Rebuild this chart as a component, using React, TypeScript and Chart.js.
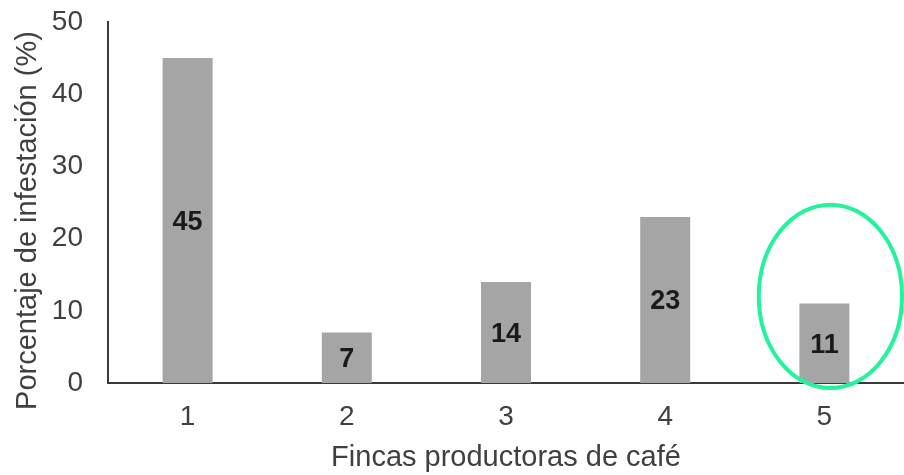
import React, { useEffect, useRef } from "react";
import { Chart, registerables } from "chart.js";

Chart.register(...registerables);

// Infestation percentage per coffee farm
const farms = ["1", "2", "3", "4", "5"];
const infestation = [45, 7, 14, 23, 11];
const yTicks = [0, 10, 20, 30, 40, 50];
const highlightedFarm = "5";

const FONT = "'Liberation Sans', Arial, sans-serif";
const TEXT = "#404040";

// Bold value written in the middle of each bar
const valueLabels = {
  id: "valueLabels",
  afterDatasetsDraw(chart: any) {
    const ctx = chart.ctx;
    const meta = chart.getDatasetMeta(0);
    ctx.save();
    ctx.font = `bold 27px ${FONT}`;
    ctx.fillStyle = "#1a1a1a";
    ctx.textAlign = "center";
    ctx.textBaseline = "middle";
    meta.data.forEach((bar: any, i: number) => {
      ctx.fillText(String(infestation[i]), bar.x, (bar.y + bar.base) / 2 + 2);
    });
    ctx.restore();
  },
};

// Vertical axis title, set a little below the centre of the axis
const yTitle = {
  id: "yTitle",
  afterDraw(chart: any) {
    const { ctx, chartArea } = chart;
    ctx.save();
    ctx.font = `29px ${FONT}`;
    ctx.fillStyle = TEXT;
    ctx.textAlign = "center";
    ctx.textBaseline = "middle";
    ctx.translate(chartArea.left - 80, (chartArea.top + chartArea.bottom) / 2 + 18);
    ctx.rotate(-Math.PI / 2);
    ctx.fillText("Porcentaje de infestación (%)", 0, 0);
    ctx.restore();
  },
};

// Green ellipse circling the highlighted farm
const highlightRing = {
  id: "highlightRing",
  afterDraw(chart: any) {
    const { ctx } = chart;
    const x = chart.scales.x;
    const y = chart.scales.y;
    const idx = farms.indexOf(highlightedFarm);
    const cx = x.getPixelForValue(idx) + 6;
    const cy = y.getPixelForValue(12);
    const step = x.getPixelForValue(1) - x.getPixelForValue(0);
    const rx = step * 0.45;
    const ry = y.getPixelForValue(0) - y.getPixelForValue(12.7);
    ctx.save();
    ctx.strokeStyle = "#24f39c";
    ctx.lineWidth = 4;
    ctx.beginPath();
    ctx.ellipse(cx, cy, rx, ry, 0, 0, Math.PI * 2);
    ctx.stroke();
    ctx.restore();
  },
};

export default function App() {
  const canvasRef = useRef<HTMLCanvasElement | null>(null);

  useEffect(() => {
    if (!canvasRef.current) return;
    const chart = new Chart(canvasRef.current, {
      type: "bar",
      data: {
        labels: farms,
        datasets: [
          {
            data: infestation,
            backgroundColor: "#a5a5a5",
            borderWidth: 0,
            categoryPercentage: 1,
            barPercentage: 0.314,
          },
        ],
      },
      options: {
        animation: false,
        responsive: false,
        maintainAspectRatio: false,
        layout: { padding: { top: 22, right: 0, bottom: 0, left: 0 } },
        plugins: {
          legend: { display: false },
          tooltip: { enabled: false },
        },
        scales: {
          x: {
            type: "category",
            offset: true,
            grid: { display: false, drawTicks: false },
            border: { display: true, color: "#3a3a3a", width: 2 },
            ticks: {
              color: TEXT,
              font: { family: FONT, size: 28 },
              padding: 17,
            },
            title: {
              display: true,
              text: "Fincas productoras de café",
              color: TEXT,
              font: { family: FONT, size: 29 },
              padding: { top: 0, bottom: 0 },
            },
            afterFit(scale: any) {
              scale.height = 92;
            },
          },
          y: {
            min: 0,
            max: 50,
            afterBuildTicks(scale: any) {
              scale.ticks = yTicks.map((v) => ({ value: v }));
            },
            grid: { display: false, drawTicks: false },
            border: { display: true, color: "#3a3a3a", width: 2 },
            ticks: {
              color: TEXT,
              font: { family: FONT, size: 28 },
              padding: 25,
            },
            afterFit(scale: any) {
              scale.width = 108;
              scale.paddingTop = 0;
              scale.paddingBottom = 0;
            },
          },
        },
      },
      plugins: [valueLabels, yTitle, highlightRing],
    });
    return () => chart.destroy();
  }, []);

  return (
    <div style={{ position: "fixed", left: 0, top: 0, width: 904, height: 475, background: "#fff" }}>
      <canvas ref={canvasRef} width={904} height={475} style={{ display: "block" }} />
    </div>
  );
}
